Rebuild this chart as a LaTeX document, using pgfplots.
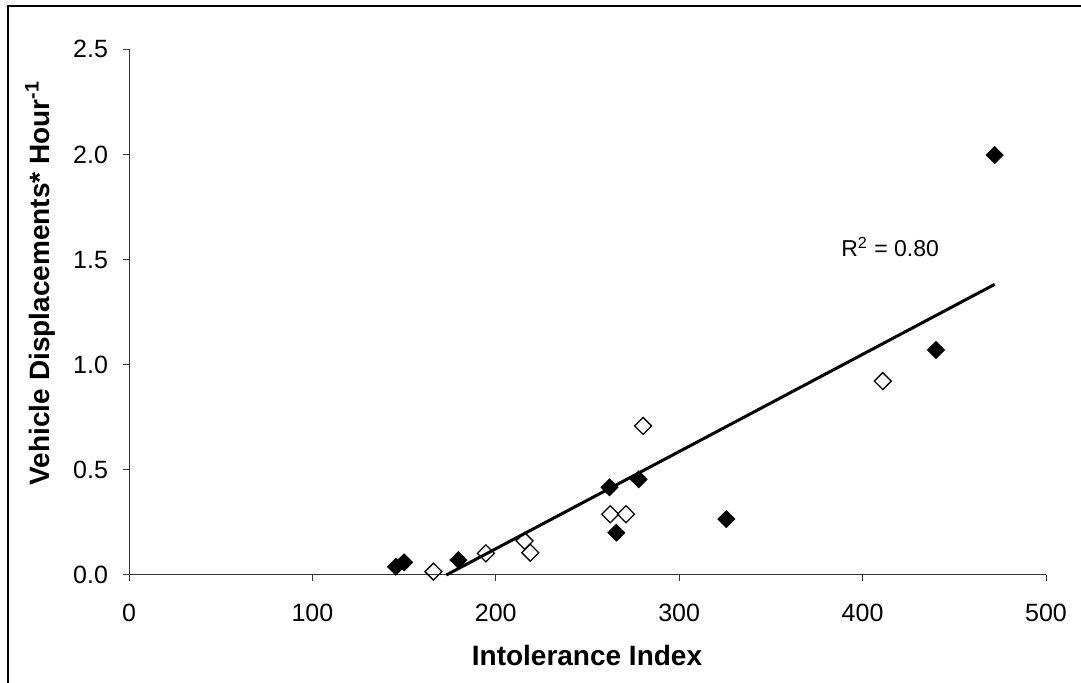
\documentclass[border=0pt]{standalone}
\usepackage{fontspec}
\setmainfont{Liberation Sans}
\usepackage{pgfplots}
\pgfplotsset{compat=1.18}
\begin{document}
\begin{tikzpicture}
\useasboundingbox (-64.5pt,-54pt) rectangle (476pt,287.5pt);
\draw[line width=0.8pt] (-60.5pt,-60pt) -- (-60.5pt,284.5pt) -- (480pt,284.5pt);
\begin{axis}[
  at={(0pt,0pt)}, anchor=south west,
  scale only axis, width=458.5pt, height=262.85pt,
  xmin=0, xmax=500, ymin=0, ymax=2.5,
  axis x line*=bottom, axis y line*=left,
  axis line style={-, line width=0.5pt, black!80},
  tick align=outside, major tick length=3pt,
  tick style={black!80, line width=0.5pt},
  xtick={0,100,200,300,400,500}, ytick={0,0.5,1,1.5,2,2.5},
  /pgf/number format/assume math mode=true,
  ticklabel style={font=\fontsize{12.5}{14}\selectfont},
  yticklabel style={xshift=-4pt, /pgf/number format/.cd, fixed, fixed zerofill, precision=1},
  xticklabel style={yshift=-8pt},
  clip=false,
]
\addplot[only marks, mark=square*, mark size=3pt, mark options={rotate=45, fill=black, draw=black, line width=0.4pt}]
  coordinates {(145.5,0.039) (150,0.06) (179.6,0.071) (262,0.417) (277.9,0.455) (265.7,0.201) (325.7,0.266) (440,1.07) (472,1.997)};
\addplot[only marks, mark=square, mark size=3pt, mark options={rotate=45, draw=black, line width=0.65pt}]
  coordinates {(166,0.016) (194.6,0.103) (215.7,0.162) (218.8,0.106) (262.4,0.289) (271,0.289) (280.3,0.709) (411,0.922)};
\addplot[black, line width=1.5pt] coordinates {(173,0) (472,1.382)};
\node[font=\fontsize{11.5}{13}\selectfont] at (axis cs:415,1.56) {R\textsuperscript{2} = 0.80};
\end{axis}
\node[font=\fontsize{14}{16}\selectfont\bfseries] at (229pt,-40pt) {Intolerance Index};
\node[font=\fontsize{14}{16}\selectfont\bfseries, rotate=90] at (-44.5pt,146pt) {Vehicle Displacements* Hour\textsuperscript{-1}};
\end{tikzpicture}
\end{document}
